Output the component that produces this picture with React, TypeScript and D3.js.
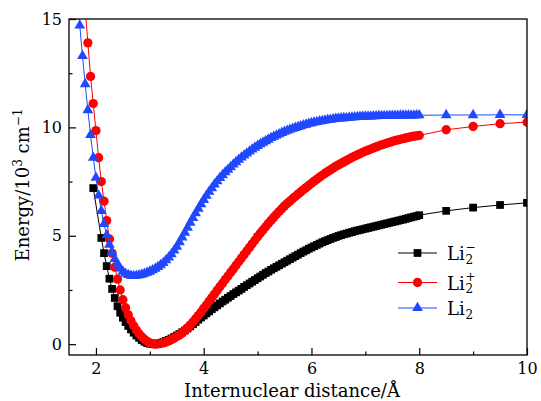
import * as React from 'react'
import * as d3 from 'd3'

// internuclear distance grid (Å)
const distance = [
  1.65, 1.7, 1.75, 1.8, 1.85, 1.9, 1.95, 2.0, 2.05, 2.1,
  2.15, 2.2, 2.25, 2.3, 2.35, 2.4, 2.45, 2.5, 2.55, 2.6,
  2.65, 2.7, 2.75, 2.8, 2.85, 2.9, 2.95, 3.0, 3.05, 3.1,
  3.15, 3.2, 3.25, 3.3, 3.35, 3.4, 3.45, 3.5, 3.55, 3.6,
  3.65, 3.7, 3.75, 3.8, 3.85, 3.9, 3.95, 4.0, 4.05, 4.1,
  4.15, 4.2, 4.25, 4.3, 4.35, 4.4, 4.45, 4.5, 4.55, 4.6,
  4.65, 4.7, 4.75, 4.8, 4.85, 4.9, 4.95, 5.0, 5.05, 5.1,
  5.15, 5.2, 5.25, 5.3, 5.35, 5.4, 5.45, 5.5, 5.55, 5.6,
  5.65, 5.7, 5.75, 5.8, 5.85, 5.9, 5.95, 6.0, 6.05, 6.1,
  6.15, 6.2, 6.25, 6.3, 6.35, 6.4, 6.45, 6.5, 6.55, 6.6,
  6.65, 6.7, 6.75, 6.8, 6.85, 6.9, 6.95, 7.0, 7.05, 7.1,
  7.15, 7.2, 7.25, 7.3, 7.35, 7.4, 7.45, 7.5, 7.55, 7.6,
  7.65, 7.7, 7.75, 7.8, 7.85, 7.9, 7.95, 8.0,
  8.5, 9.0, 9.5, 10.0
]

// energies, 10^3 cm^-1
const liMinus = [
  null, null, null, null, null, null, 7.2, null, null, 4.9,
  4.2, 3.6, 3.02, 2.55, 2.13, 1.75, 1.45, 1.22, 1.02, 0.84,
  0.68, 0.53, 0.4, 0.29, 0.19, 0.11, 0.05, 0.02, 0.0, 0.01,
  0.03, 0.06, 0.1, 0.15, 0.2, 0.26, 0.33, 0.4, 0.47, 0.55,
  0.63, 0.72, 0.82, 0.92, 1.02, 1.13, 1.23, 1.32, 1.42, 1.51,
  1.61, 1.7, 1.79, 1.88, 1.97, 2.05, 2.14, 2.22, 2.31, 2.39,
  2.47, 2.55, 2.64, 2.72, 2.8, 2.88, 2.96, 3.04, 3.12, 3.2,
  3.28, 3.35, 3.43, 3.5, 3.57, 3.64, 3.71, 3.78, 3.85, 3.92,
  3.99, 4.06, 4.13, 4.2, 4.27, 4.33, 4.4, 4.46, 4.52, 4.58,
  4.64, 4.7, 4.75, 4.8, 4.85, 4.9, 4.94, 4.99, 5.03, 5.07,
  5.1, 5.14, 5.17, 5.21, 5.24, 5.27, 5.3, 5.33, 5.36, 5.39,
  5.42, 5.45, 5.48, 5.51, 5.54, 5.57, 5.6, 5.63, 5.66, 5.69,
  5.72, 5.75, 5.78, 5.82, 5.85, 5.88, 5.91, 5.95,
  6.15, 6.3, 6.42, 6.52
]

const liPlus = [
  null, null, null, 15.5, 13.9, 12.35, 11.1, 9.85, 8.6, 7.5,
  6.6, 5.7, 4.85, 4.2, 3.55, 3.0, 2.5, 2.05, 1.68, 1.35,
  1.08, 0.85, 0.65, 0.48, 0.34, 0.22, 0.13, 0.06, 0.02, 0.0,
  0.01, 0.03, 0.06, 0.1, 0.15, 0.21, 0.28, 0.35, 0.43, 0.52,
  0.63, 0.75, 0.88, 1.02, 1.17, 1.32, 1.48, 1.65, 1.81, 1.98,
  2.14, 2.31, 2.48, 2.65, 2.81, 2.98, 3.14, 3.31, 3.47, 3.64,
  3.8, 3.97, 4.13, 4.3, 4.46, 4.63, 4.79, 4.96, 5.12, 5.27,
  5.42, 5.57, 5.71, 5.85, 5.99, 6.12, 6.25, 6.38, 6.49, 6.6,
  6.71, 6.81, 6.92, 7.02, 7.12, 7.22, 7.32, 7.42, 7.52, 7.61,
  7.7, 7.79, 7.88, 7.96, 8.04, 8.12, 8.2, 8.27, 8.34, 8.41,
  8.48, 8.54, 8.61, 8.67, 8.73, 8.79, 8.85, 8.9, 8.95, 9.0,
  9.05, 9.1, 9.15, 9.19, 9.23, 9.27, 9.31, 9.35, 9.39, 9.42,
  9.45, 9.48, 9.51, 9.54, 9.57, 9.59, 9.61, 9.63,
  9.89, 10.04, 10.17, 10.24
]

const liNeutral = [
  16.5, 14.7, 13.3, 12.0, 10.8, 9.65, 8.6, 7.68, 6.86, 6.15,
  5.55, 5.03, 4.59, 4.23, 3.93, 3.69, 3.5, 3.35, 3.25, 3.19,
  3.16, 3.15, 3.16, 3.18, 3.21, 3.25, 3.3, 3.35, 3.41, 3.48,
  3.56, 3.65, 3.75, 3.87, 4.0, 4.15, 4.32, 4.5, 4.71, 4.92,
  5.14, 5.37, 5.6, 5.82, 6.04, 6.25, 6.46, 6.66, 6.85, 7.03,
  7.2, 7.37, 7.52, 7.67, 7.8, 7.93, 8.05, 8.17, 8.29, 8.4,
  8.51, 8.61, 8.71, 8.8, 8.89, 8.98, 9.07, 9.15, 9.23, 9.3,
  9.37, 9.44, 9.51, 9.57, 9.63, 9.69, 9.75, 9.8, 9.85, 9.89,
  9.94, 9.98, 10.02, 10.06, 10.1, 10.13, 10.17, 10.2, 10.23, 10.25,
  10.28, 10.3, 10.32, 10.34, 10.36, 10.38, 10.4, 10.41, 10.42, 10.43,
  10.44, 10.45, 10.46, 10.47, 10.48, 10.49, 10.5, 10.5, 10.51, 10.51,
  10.52, 10.52, 10.53, 10.53, 10.53, 10.53, 10.54, 10.54, 10.54, 10.54,
  10.55, 10.55, 10.55, 10.55, 10.55, 10.55, 10.56, 10.56,
  10.57, 10.57, 10.58, 10.58
]

const xTicks = [2, 4, 6, 8, 10]
const xMinor = [3, 5, 7, 9]
const yTicks = [0, 5, 10, 15]
const yMinor = [2.5, 7.5, 12.5]

const font = '"DejaVu Serif", serif'

export default function App() {
  const ref = React.useRef<SVGSVGElement>(null)

  React.useEffect(() => {
    const svg = d3.select(ref.current)
    svg.selectAll('*').remove()

    const left = 69, right = 527, top = 19, bottom = 355
    const x = d3.scaleLinear().domain([1.5, 10]).range([left, right])
    const y = d3.scaleLinear().domain([-0.5, 15]).range([bottom, top])

    svg.append('defs').append('clipPath').attr('id', 'plot')
      .append('rect')
      .attr('x', left).attr('y', top)
      .attr('width', right - left).attr('height', bottom - top)

    const series = [
      { name: 'minus', values: liMinus, color: '#000000', symbol: d3.symbolSquare, size: 60 },
      { name: 'plus', values: liPlus, color: '#ff0000', symbol: d3.symbolCircle, size: 68 },
      { name: 'neutral', values: liNeutral, color: '#1f48ff', symbol: d3.symbolTriangle, size: 50 }
    ]

    const line = d3.line<[number, number]>()
      .x(d => x(d[0]))
      .y(d => y(d[1]))

    const plot = svg.append('g').attr('clip-path', 'url(#plot)')

    series.forEach(s => {
      const pts = distance
        .map((r, i) => [r, s.values[i]] as [number, number | null])
        .filter(d => d[1] !== null) as [number, number][]

      plot.append('path')
        .datum(pts)
        .attr('d', line)
        .attr('fill', 'none')
        .attr('stroke', s.color)
        .attr('stroke-width', 1)

      plot.selectAll('.m-' + s.name)
        .data(pts)
        .enter().append('path')
        .attr('class', 'm-' + s.name)
        .attr('transform', d => `translate(${x(d[0])},${y(d[1])})`)
        .attr('d', d3.symbol().type(s.symbol).size(s.size)())
        .attr('fill', s.color)
    })

    // axes
    const xAxis = svg.append('g')
      .attr('transform', `translate(0,${bottom})`)
      .call(d3.axisBottom(x).tickValues(xTicks).tickSizeInner(-7).tickSizeOuter(0).tickPadding(8).tickFormat(d3.format('d')))
    svg.append('g')
      .attr('transform', `translate(0,${bottom})`)
      .call(d3.axisBottom(x).tickValues(xMinor).tickSizeInner(-3.5).tickSizeOuter(0).tickFormat(() => ''))
    const yAxis = svg.append('g')
      .attr('transform', `translate(${left},0)`)
      .call(d3.axisLeft(y).tickValues(yTicks).tickSizeInner(-7).tickSizeOuter(0).tickPadding(7).tickFormat(d3.format('d')))
    svg.append('g')
      .attr('transform', `translate(${left},0)`)
      .call(d3.axisLeft(y).tickValues(yMinor).tickSizeInner(-3.5).tickSizeOuter(0).tickFormat(() => ''))

    svg.selectAll('.domain').remove()
    svg.selectAll('.tick line').attr('stroke', '#000').attr('stroke-width', 1.2)
    ;[xAxis, yAxis].forEach(a => a.selectAll('text')
      .attr('font-family', font)
      .attr('font-size', 16)
      .attr('fill', '#000'))

    svg.append('rect')
      .attr('x', left).attr('y', top)
      .attr('width', right - left).attr('height', bottom - top)
      .attr('fill', 'none')
      .attr('stroke', '#000')
      .attr('stroke-width', 1.3)

    // axis titles
    svg.append('text')
      .attr('x', 292).attr('y', 397)
      .attr('text-anchor', 'middle')
      .attr('font-family', font).attr('font-size', 18)
      .text('Internuclear distance/Å')

    const yt = svg.append('text')
      .attr('transform', 'translate(29,185) rotate(-90)')
      .attr('text-anchor', 'middle')
      .attr('font-family', font).attr('font-size', 18)
    yt.append('tspan').text('Energy/10')
    yt.append('tspan').attr('font-size', 12).attr('dy', -7).text('3')
    yt.append('tspan').attr('dy', 7).text(' cm')
    yt.append('tspan').attr('font-size', 12).attr('dy', -7).text('−1')

    // legend
    const legendRows = [
      { s: series[0], y: 253, sup: '−' },
      { s: series[1], y: 282.5, sup: '+' },
      { s: series[2], y: 308, sup: '' }
    ]
    const lg = svg.append('g')
    legendRows.forEach(r => {
      lg.append('line')
        .attr('x1', 398).attr('x2', 437)
        .attr('y1', r.y).attr('y2', r.y)
        .attr('stroke', r.s.color).attr('stroke-width', 1)
      lg.append('path')
        .attr('transform', `translate(417.5,${r.y})`)
        .attr('d', d3.symbol().type(r.s.symbol).size(r.s.size)())
        .attr('fill', r.s.color)
      lg.append('text')
        .attr('x', 447).attr('y', r.y + 7)
        .attr('font-family', font).attr('font-size', 18)
        .text('Li')
      lg.append('text')
        .attr('x', 465.5).attr('y', r.y + 10.5)
        .attr('font-family', font).attr('font-size', 12)
        .text('2')
      if (r.sup) {
        lg.append('text')
          .attr('x', 465.5).attr('y', r.y - 2)
          .attr('font-family', font).attr('font-size', 12)
          .text(r.sup)
      }
    })
  }, [])

  return (
    <svg
      ref={ref}
      width={541}
      height={401}
      style={{ position: 'absolute', left: 0, top: 0, background: '#fff' }}
    />
  )
}
